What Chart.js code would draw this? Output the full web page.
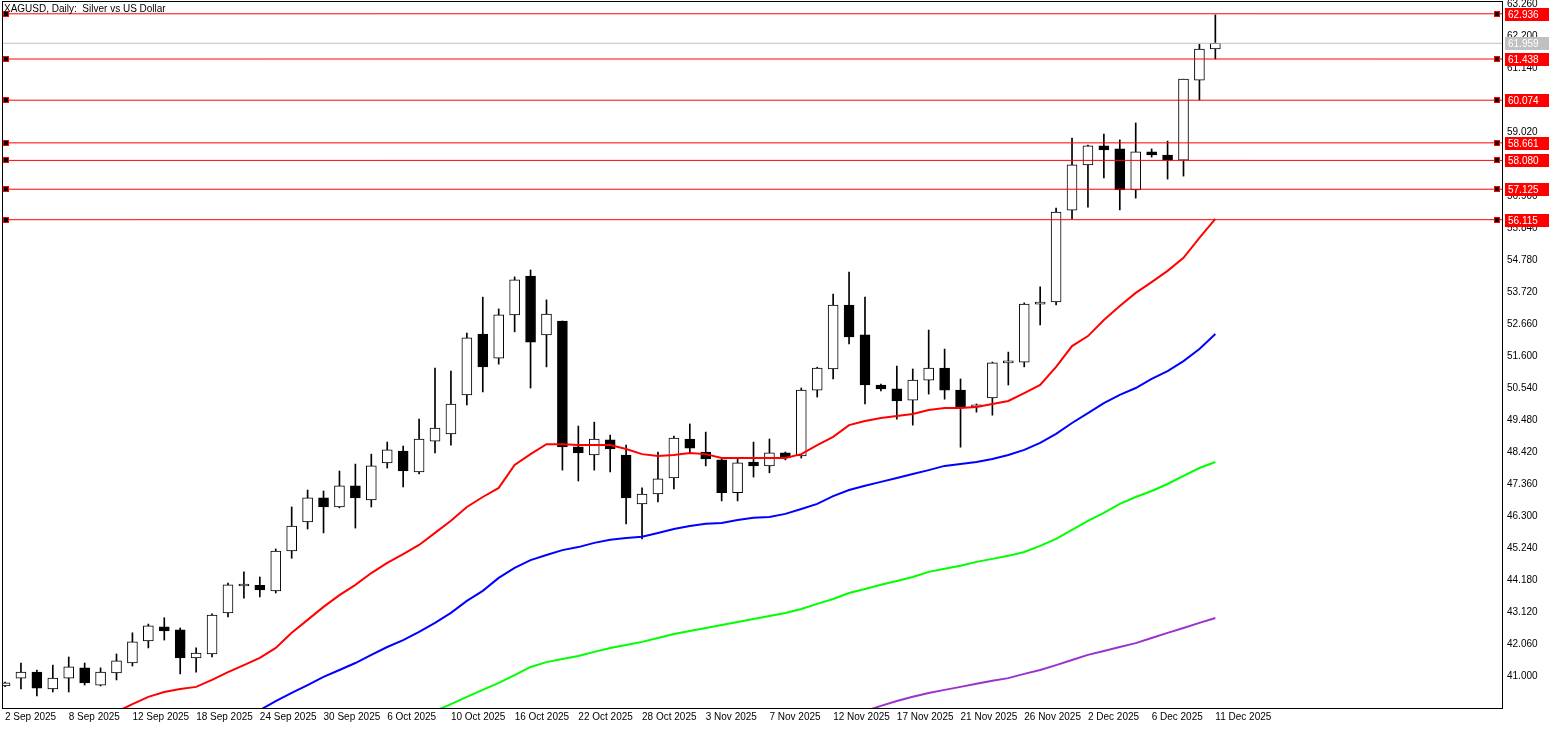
<!DOCTYPE html>
<html>
<head>
<meta charset="utf-8">
<script src="https://cdn.jsdelivr.net/npm/chart.js@4/dist/chart.umd.min.js"></script>
<style>
  html, body { margin: 0; padding: 0; background: #fff; overflow: hidden; }
  #wrap { width: 1550px; height: 735px; margin-top: -6px; }
</style>
</head>
<body>
<div id="wrap"><canvas id="chart"></canvas></div>
<script>
// XAGUSD daily candles, 2 Sep - 11 Dec 2025
const opens  = [40.67,40.93,41.13,40.57,40.93,41.27,40.70,41.10,41.43,42.16,42.63,42.53,41.60,41.73,43.09,43.98,44.00,
  43.82,45.14,46.10,46.90,46.60,47.30,46.83,48.06,48.45,47.76,48.78,49.02,50.31,52.33,51.53,52.96,54.25,52.30,52.76,
  48.59,48.32,48.82,48.32,46.70,47.03,47.56,48.85,48.42,48.16,47.07,48.09,47.96,48.39,48.29,50.47,51.17,53.29,52.30,
  50.64,50.51,50.14,50.80,51.20,50.47,49.91,50.21,51.37,51.40,53.32,53.39,56.43,57.93,58.56,58.46,57.10,58.36,58.26,
  58.09,60.74,61.77];
const highs  = [40.80,41.43,41.20,41.36,41.63,41.43,41.27,41.73,42.43,42.72,42.93,42.59,41.93,43.06,44.08,44.45,44.28,
  45.21,46.60,47.16,47.13,47.79,48.02,48.35,48.75,48.62,49.51,51.20,51.10,52.36,53.55,53.16,54.22,54.45,53.46,52.76,
  49.28,49.41,48.98,48.65,47.23,48.42,48.95,49.35,49.08,48.22,48.19,48.75,48.85,48.42,50.54,51.23,53.65,54.38,53.55,
  50.67,51.27,51.17,52.46,51.83,50.84,50.01,51.40,51.73,53.36,53.89,56.50,58.82,58.59,58.95,58.76,59.32,58.46,58.72,
  60.77,61.93,62.90];
const lows   = [40.65,40.57,40.34,40.47,40.47,40.70,40.67,40.87,41.33,41.93,42.19,41.07,41.13,41.63,42.96,43.58,43.62,
  43.75,44.90,45.87,45.74,46.57,45.90,46.60,47.89,47.26,47.69,48.39,48.65,49.98,50.41,51.33,52.40,50.54,51.24,47.82,
  47.46,47.82,47.76,46.04,45.54,46.77,47.20,48.39,47.96,46.80,46.80,47.59,47.73,48.16,48.22,50.24,50.84,52.00,50.01,
  50.44,49.51,49.31,50.34,50.17,48.58,49.74,49.64,50.64,51.24,52.63,53.29,56.14,56.53,57.50,56.44,56.83,58.19,57.46,
  57.56,60.08,61.44];
const closes = [40.77,41.13,40.60,40.93,41.30,40.77,41.13,41.50,42.13,42.66,42.49,41.60,41.76,43.02,44.02,43.99,43.85,
  45.14,45.97,46.90,46.60,47.30,46.90,47.96,48.49,47.79,48.85,49.21,50.01,52.20,51.24,52.96,54.12,52.06,52.99,48.59,
  48.39,48.85,48.52,46.90,47.03,47.53,48.88,48.55,48.19,47.07,48.06,47.96,48.39,48.22,50.47,51.20,53.29,52.23,50.64,
  50.51,50.11,50.80,51.20,50.47,49.91,49.98,51.37,51.43,53.32,53.39,56.37,57.93,58.56,58.43,57.10,58.36,58.26,58.09,
  60.77,61.77,61.96];

// moving averages, each starts at the given candle index
const redStart = 7;
const redMA = [39.81,40.07,40.31,40.47,40.57,40.64,40.87,41.13,41.36,41.60,41.93,42.43,42.86,43.29,43.68,44.02,44.41,
  44.75,45.04,45.34,45.74,46.14,46.60,46.93,47.23,47.99,48.35,48.68,48.68,48.65,48.65,48.65,48.52,48.35,48.29,48.32,
  48.39,48.35,48.22,48.22,48.22,48.22,48.22,48.35,48.65,48.92,49.31,49.45,49.55,49.61,49.68,49.81,49.88,49.88,49.91,
  50.01,50.11,50.37,50.64,51.24,51.93,52.26,52.79,53.26,53.69,54.05,54.42,54.85,55.51,56.14];
const blueStart = 16;
const blueMA = [39.87,40.17,40.44,40.70,40.97,41.20,41.43,41.70,41.96,42.19,42.46,42.76,43.09,43.49,43.82,44.25,44.58,
  44.84,45.01,45.17,45.27,45.41,45.51,45.57,45.61,45.74,45.87,45.97,46.04,46.07,46.17,46.24,46.27,46.37,46.53,46.70,
  46.96,47.16,47.30,47.43,47.56,47.69,47.82,47.96,48.02,48.09,48.19,48.32,48.49,48.72,49.02,49.38,49.71,50.04,50.31,
  50.54,50.84,51.10,51.43,51.83,52.33];
const greenStart = 27;
const greenMA = [39.84,40.07,40.31,40.54,40.77,41.03,41.30,41.46,41.56,41.66,41.80,41.93,42.03,42.13,42.26,42.39,42.49,
  42.59,42.69,42.79,42.89,42.99,43.09,43.22,43.39,43.55,43.75,43.88,44.02,44.15,44.28,44.45,44.55,44.65,44.78,44.88,
  44.98,45.11,45.31,45.54,45.84,46.14,46.40,46.70,46.93,47.13,47.36,47.63,47.89,48.09];
const purpleStart = 54;
const purpleMA = [39.84,40.01,40.17,40.31,40.44,40.54,40.64,40.74,40.84,40.93,41.07,41.20,41.36,41.53,41.70,41.83,41.96,
  42.09,42.26,42.43,42.59,42.76,42.92];

const levels = [62.936, 61.438, 60.074, 58.661, 58.080, 57.125, 56.115];
const lastPrice = 61.959;

const dateLabels = ['2 Sep 2025','8 Sep 2025','12 Sep 2025','18 Sep 2025','24 Sep 2025','30 Sep 2025','6 Oct 2025',
  '10 Oct 2025','16 Oct 2025','22 Oct 2025','28 Oct 2025','3 Nov 2025','7 Nov 2025','12 Nov 2025','17 Nov 2025',
  '21 Nov 2025','26 Nov 2025','2 Dec 2025','6 Dec 2025','11 Dec 2025'];
const priceTicks = [41.000,42.060,43.120,44.180,45.240,46.300,47.360,48.420,49.480,50.540,51.600,52.660,53.720,
  54.780,55.840,56.900,57.960,59.020,60.080,61.140,62.200,63.260];

const X_MIN = -0.19, X_MAX = 94.0, Y_MIN = 39.94, Y_MAX = 63.36;
const FONT = '"Liberation Sans", Arial, sans-serif';

const wicks = opens.map((o, i) => ({ x: i, y: [lows[i], highs[i]] }));
const bodies = opens.map((o, i) => ({ x: i, y: [o, closes[i]] }));
const maPoints = (start, arr) => arr.map((v, k) => ({ x: start + k, y: v }));

function lineSet(data, color, width) {
  return { type: 'line', data, borderColor: color, borderWidth: width, pointRadius: 0, tension: 0, order: 0 };
}

const levelSets = levels.map(v => lineSet([{ x: X_MIN, y: v }, { x: X_MAX, y: v }], '#ff0000', 1));

const decorations = {
  id: 'decorations',
  afterDraw(chart) {
    const { ctx, chartArea: a, scales: { y } } = chart;
    ctx.save();
    ctx.strokeStyle = '#000';
    ctx.lineWidth = 1;
    ctx.strokeRect(a.left + 0.5, a.top + 0.5, a.right - a.left, a.bottom - a.top);
    ctx.font = '10px ' + FONT;
    ctx.textBaseline = 'middle';
    const badge = (v, bg) => {
      const py = Math.round(y.getPixelForValue(v));
      ctx.fillStyle = bg;
      ctx.fillRect(a.right + 3, py - 6, 44, 13);
      ctx.fillStyle = '#fff';
      ctx.textAlign = 'left';
      ctx.fillText(v.toFixed(3), a.right + 6, py + 1);
    };
    levels.forEach(v => {
      const py = Math.round(y.getPixelForValue(v));
      ctx.fillStyle = '#ff0000';
      ctx.fillRect(a.left + 1, py - 3, 6, 6);
      ctx.fillRect(a.right - 8, py - 3, 6, 6);
      ctx.fillStyle = '#000';
      ctx.fillRect(a.left + 2, py - 2, 4, 4);
      ctx.fillRect(a.right - 7, py - 2, 4, 4);
      badge(v, '#ff0000');
    });
    badge(lastPrice, '#c0c0c0');
    ctx.fillStyle = '#000';
    ctx.textAlign = 'left';
    ctx.fillText('XAGUSD, Daily:  Silver vs US Dollar', a.left + 2, a.top + 8);
    ctx.restore();
  }
};

new Chart(document.getElementById('chart'), {
  type: 'bar',
  data: {
    datasets: [
      lineSet([{ x: X_MIN, y: lastPrice }, { x: X_MAX, y: lastPrice }], '#c0c0c0', 1),
      ...levelSets,
      lineSet(maPoints(purpleStart, purpleMA), '#9933cc', 2),
      lineSet(maPoints(greenStart, greenMA), '#00ff00', 2),
      lineSet(maPoints(blueStart, blueMA), '#0000ff', 2),
      lineSet(maPoints(redStart, redMA), '#ff0000', 2),
      {
        data: bodies, order: 1, grouped: false, barThickness: 10, minBarLength: 2,
        backgroundColor: ctx => (closes[ctx.dataIndex] >= opens[ctx.dataIndex] ? '#ffffff' : '#000000'),
        borderColor: '#000', borderWidth: 1, borderSkipped: false
      },
      { data: wicks, order: 2, grouped: false, barThickness: 1, backgroundColor: '#000', borderWidth: 0 }
    ]
  },
  options: {
    responsive: true,
    maintainAspectRatio: false,
    animation: false,
    events: [],
    layout: { padding: { left: 2, top: 2, right: 0, bottom: 0 } },
    plugins: { legend: { display: false }, tooltip: { enabled: false } },
    scales: {
      x: {
        type: 'linear', min: X_MIN, max: X_MAX, offset: false,
        afterBuildTicks: s => { s.ticks = dateLabels.map((_, k) => ({ value: k * 4 })); },
        afterFit: s => { s.height = 21; },
        grid: { display: false, drawTicks: true, tickLength: 3, tickColor: '#000' },
        border: { display: false },
        ticks: {
          autoSkip: false, maxRotation: 0, align: 'start', padding: 0, color: '#000',
          font: { family: FONT, size: 10 },
          callback: v => dateLabels[Math.round(v / 4)] || ''
        }
      },
      y: {
        position: 'right', min: Y_MIN, max: Y_MAX,
        afterBuildTicks: s => { s.ticks = priceTicks.map(v => ({ value: v })); },
        afterFit: s => { s.width = 48; },
        grid: { display: false, drawTicks: true, tickLength: 4, tickColor: '#000' },
        border: { display: false },
        ticks: {
          autoSkip: false, padding: 1, color: '#000', font: { family: FONT, size: 10 },
          callback: v => v.toFixed(3)
        }
      }
    }
  },
  plugins: [decorations]
});
</script>
</body>
</html>
